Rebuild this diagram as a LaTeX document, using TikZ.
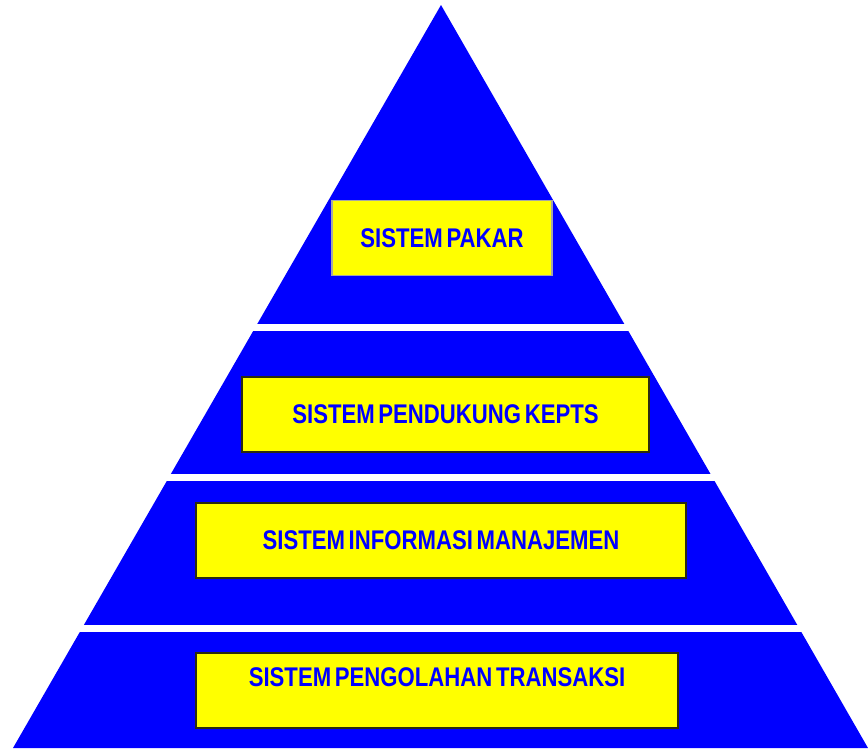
\documentclass[tikz,border=0pt]{standalone}
\usepackage{fontspec}
\usepackage{xcolor}
\usepackage{tikz}
\usetikzlibrary{positioning}
\newfontfamily\boxfont{Liberation Sans}[FakeStretch=0.82, WordSpace=0.6]
\definecolor{LevelBlue} {HTML}{0000FF}
\definecolor{BoxYellow} {HTML}{FFFF00}
\definecolor{EdgeDark}  {HTML}{2B2B10}

\begin{document}
\begin{tikzpicture}[
  x=1pt, y=-1pt,
  txt/.style={font=\boxfont\bfseries\fontsize{27}{29}\selectfont, text=LevelBlue, inner sep=0pt},
  box/.style={txt, draw=EdgeDark, line width=1.4pt, fill=BoxYellow, minimum height=75pt},
  gap/.style={draw=white, line width=7pt}
]
  \useasboundingbox (0,0) rectangle (868,748);

  % the pyramid, cut into four levels by white gaps
  \fill[LevelBlue] (441,5) -- (868,748) -- (13,748) -- cycle;
  \draw[gap] (200,327.5) -- (700,327.5);
  \draw[gap] (120,477.5) -- (760,477.5);
  \draw[gap] (40,628.5)  -- (840,628.5);

  % one box on each level
  \node[box, draw=gray!70, minimum width=220pt] (pakar) at (442,238) {SISTEM PAKAR};
  \node[box, minimum width=407pt] (spk) at (445.5,414.5) {SISTEM PENDUKUNG KEPTS};
  \node[box, minimum width=490pt] (sim) at (441,540.5) {SISTEM INFORMASI MANAJEMEN};
  \node[box, minimum width=482pt] (tps) at (437,690.5) {};
  \node[txt] (tpslbl) at ([yshift=13.5pt]tps.center) {SISTEM PENGOLAHAN TRANSAKSI};
\end{tikzpicture}
\end{document}
